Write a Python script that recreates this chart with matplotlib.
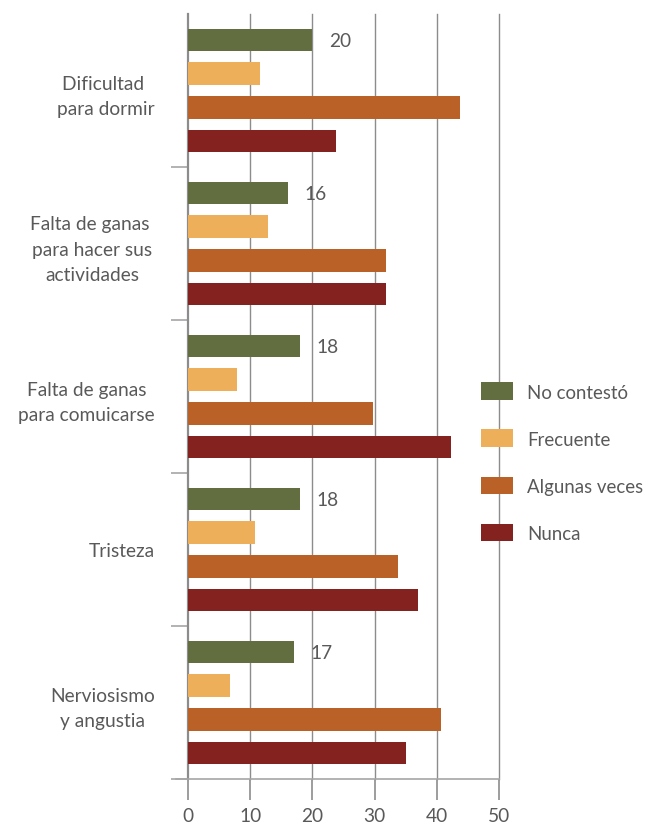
import numpy as np
import matplotlib.pyplot as plt
from matplotlib.patches import Patch

categorias = ['Dificultad \npara dormir',
              'Falta de ganas \npara hacer sus\nactividades',
              'Falta de ganas\npara comuicarse',
              'Tristeza',
              'Nerviosismo\ny angustia']
series = ['No contestó', 'Frecuente', 'Algunas veces', 'Nunca']
no_contesto = [20, 16, 18, 18, 17]
frecuente = [11.6, 12.9, 7.9, 10.8, 6.8]
algunas_veces = [43.7, 31.8, 29.7, 33.8, 40.7]
nunca = [23.8, 31.8, 42.3, 37.0, 35.0]
colores = ['#636E40', '#EDAF5A', '#BA6128', '#842220']

plt.rcParams['font.family'] = ['Lato', 'DejaVu Sans']
texto = '#595959'
fs = 13.8

fig = plt.figure(figsize=(6.47, 8.29), dpi=100)
ax = fig.add_axes([188/647, 49/829, 311/647, 765/829])

y = np.arange(len(categorias))
offsets = [-0.33, -0.11, 0.11, 0.33]
valores = [no_contesto, frecuente, algunas_veces, nunca]
for vals, off, c in zip(valores, offsets, colores):
    ax.barh(y + off, vals, height=0.15, color=c, zorder=3)

for yi, v in zip(y, no_contesto):
    ax.text(v + 2.7, yi + offsets[0], str(v), va='center', ha='left',
            fontsize=fs, color=texto)

ax.set_xlim(0, 50)
ax.set_ylim(len(categorias) - 0.5, -0.5)

ax.set_xticks([0, 10, 20, 30, 40, 50])
ax.set_xticklabels(['0', '10', '20', '30', '40', '50'], fontsize=fs, color=texto)
ax.tick_params(axis='x', length=15, width=1.2, color='#8c8c8c', pad=5)
for xv in [10, 20, 30, 40, 50]:
    ax.axvline(xv, color='#8c8c8c', lw=1.0, zorder=1, clip_on=False)

ax.set_yticks(y)
ax.set_yticklabels(categorias, fontsize=fs, color=texto, multialignment='center',
                   linespacing=1.6)
ax.tick_params(axis='y', length=0, pad=24)
ax.set_yticks(np.arange(0.5, len(categorias), 1), minor=True)
ax.tick_params(axis='y', which='minor', length=12, width=1.2, color='#a6a6a6')

for s in ['top', 'right']:
    ax.spines[s].set_visible(False)
ax.spines['left'].set_color('#8c8c8c')
ax.spines['left'].set_linewidth(1.6)
ax.spines['bottom'].set_color('#a6a6a6')
ax.spines['bottom'].set_linewidth(1.2)
ax.spines['bottom'].set_bounds(-2, 50)

handles = [Patch(facecolor=c) for c in colores]
fig.legend(handles, series, loc='upper left', bbox_to_anchor=(472/647, 1 - 374/829),
           frameon=False, fontsize=13.4, handlelength=1.7, handleheight=1.1,
           labelspacing=1.55, handletextpad=0.75, borderpad=0, labelcolor=texto)

fig.savefig('out.png', dpi=100)
